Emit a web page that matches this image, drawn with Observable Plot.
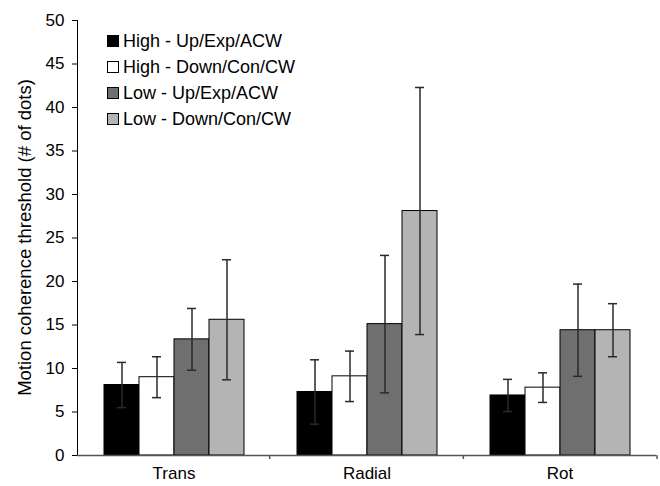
<!DOCTYPE html>
<html>
<head>
<meta charset="utf-8">
<script src="https://cdn.jsdelivr.net/npm/d3@7"></script>
<script src="https://cdn.jsdelivr.net/npm/@observablehq/plot@0.6"></script>
<style>
  html, body { margin: 0; padding: 0; background: #fff; }
  #wrap { position: relative; width: 660px; height: 486px; font-family: "Liberation Sans", Arial, sans-serif; }
  #legend { position: absolute; left: 107px; top: 28px; font-size: 18px; color: #000; }
  #legend .row { display: flex; align-items: center; height: 26px; }
  #legend .sw { width: 10px; height: 10px; border: 1px solid #000; margin-right: 4px; box-sizing: content-box; }
</style>
</head>
<body>
<div id="wrap"><div id="legend"></div></div>
<script>
const categories = ["Trans", "Radial", "Rot"];
const series = ["High - Up/Exp/ACW", "High - Down/Con/CW", "Low - Up/Exp/ACW", "Low - Down/Con/CW"];
const colors = ["#000000", "#ffffff", "#6f6f6f", "#b4b4b4"];
const transMean = [8.1, 9.0, 13.35, 15.6];
const transErr = [2.6, 2.35, 3.55, 6.9];
const radialMean = [7.3, 9.1, 15.1, 28.1];
const radialErr = [3.7, 2.9, 7.9, 14.2];
const rotMean = [6.9, 7.8, 14.4, 14.4];
const rotErr = [1.85, 1.7, 5.3, 3.05];
const yTicks = [0, 5, 10, 15, 20, 25, 30, 35, 40, 45, 50];
const yLabel = "Motion coherence threshold (# of dots)";

const means = [transMean, radialMean, rotMean];
const errs = [transErr, radialErr, rotErr];
const rows = categories.flatMap((c, i) => series.map((s, j) => ({cat: c, s, v: means[i][j], e: errs[i][j]})));

const plot = Plot.plot({
  width: 660,
  height: 486,
  marginLeft: 76,
  marginRight: 3,
  marginTop: 20,
  marginBottom: 31,
  style: {fontFamily: "'Liberation Sans', Arial, sans-serif", fontSize: "17px", color: "#000", background: "white"},
  fx: {domain: categories, padding: 0, label: null, axis: "bottom", tickSize: 0, tickPadding: 11},
  x: {domain: series, paddingInner: 0, paddingOuter: 0.73, axis: null},
  y: {domain: [0, 50], ticks: yTicks, tickSize: 5, tickPadding: 8, label: null, line: true, tickFormat: d => String(d)},
  color: {domain: series, range: colors},
  marks: [
    Plot.barY(rows, {fx: "cat", x: "s", y: "v", fill: "s", stroke: "#000", strokeWidth: 1}),
    Plot.ruleX(rows, {fx: "cat", x: "s", y1: d => d.v - d.e, y2: d => d.v + d.e, stroke: "#2a2a2a", strokeWidth: 1.5}),
    Plot.tickY(rows, {fx: "cat", x: "s", y: d => d.v + d.e, insetLeft: 13, insetRight: 13, stroke: "#2a2a2a", strokeWidth: 1.5}),
    Plot.tickY(rows, {fx: "cat", x: "s", y: d => d.v - d.e, insetLeft: 13, insetRight: 13, stroke: "#2a2a2a", strokeWidth: 1.5}),
    Plot.ruleY([0], {stroke: "#555", strokeWidth: 1.5})
  ]
});

// group boundary ticks on the x axis, derived from the fx scale
const fx = plot.scale("fx");
const yS = plot.scale("y");
const band = d3.scaleBand().domain(fx.domain).range(fx.range).padding(0);
const svg = d3.select(plot);
const y0 = yS.apply(0);
categories.forEach(c => {
  const xr = band(c) + band.bandwidth();
  svg.append("line").attr("x1", xr).attr("x2", xr).attr("y1", y0).attr("y2", y0 + 4)
    .attr("stroke", "#555").attr("stroke-width", 1.5);
});
// y axis title, centred on the y range
const yr = yS.range;
svg.append("text")
  .attr("transform", `translate(24,${(yr[0] + yr[1]) / 2}) rotate(-90)`)
  .attr("text-anchor", "middle").attr("dominant-baseline", "central")
  .attr("font-size", "18.5px").attr("fill", "#000")
  .text(yLabel);

document.getElementById("wrap").prepend(plot);

const legend = d3.select("#legend");
series.forEach((s, i) => {
  const row = legend.append("div").attr("class", "row");
  row.append("div").attr("class", "sw").style("background", colors[i]);
  row.append("span").text(s);
});
</script>
</body>
</html>
